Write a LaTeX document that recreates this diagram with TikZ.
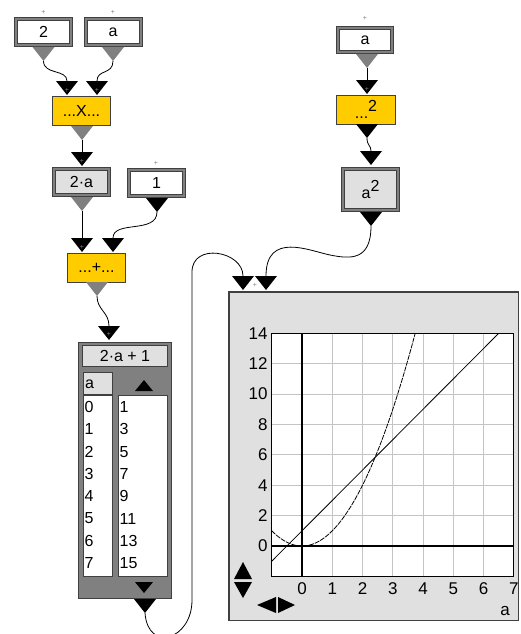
\documentclass[tikz,border=0pt]{standalone}
\usepackage{fontspec}
\setmainfont{Liberation Sans}
\definecolor{gold}{HTML}{FFCC00}
\definecolor{lgray}{HTML}{E0E0E0}
\definecolor{mgray}{HTML}{808080}
\definecolor{dgray}{HTML}{404040}
\definecolor{gridc}{HTML}{C4C4C4}
\newcommand\mytri[4]{%
  \fill[#3] ({#1-11},#2) -- ({#1+11},#2) -- (#1,{#2+14}) -- cycle;
  \coordinate (#4t) at (#1,#2);
  \coordinate (#4b) at (#1,{#2+14});}
\tikzset{
  valbox/.style={draw=dgray, double=mgray, double distance=2pt, line width=1pt,
    minimum width=55pt, minimum height=26pt, inner sep=0pt,
    font=\fontsize{16}{16}\selectfont, fill=white},
  opbox/.style={draw=dgray, line width=1pt, fill=gold, minimum width=58pt,
    minimum height=29pt, inner sep=0pt, font=\fontsize{16}{16}\selectfont},
  wire/.style={line width=0.8pt, black},
  plusmark/.style={font=\fontsize{7}{7}\selectfont, text=gray, inner sep=0pt},
  num/.style={font=\fontsize{16}{16}\selectfont, inner sep=0pt, anchor=west},
  tick/.style={font=\fontsize{17}{17}\selectfont, inner sep=0pt},
  cell/.style={draw=dgray, line width=1pt, fill=white, inner sep=0pt},
}
\begin{document}
\begin{tikzpicture}[x=1pt,y=-1pt]
\useasboundingbox (0,0) rectangle (520,634);

\coordinate (ubend) at (192,600);
\coordinate (utop) at (192,272);
\coordinate (gm) at (330,255);

% ---------- boxes ----------
\node[valbox] (n2) at (43.5,32) {2};
\node[valbox] (na) at (113,32) {a};
\node[opbox] (nx) at (81.5,111) {...X...};
\node[valbox, fill=lgray] (n2a) at (81.5,182) {2·a};
\node[valbox] (n1) at (156.5,183) {1};
\node[opbox] (nplus) at (96.5,267.5) {...+...};
\node[valbox, minimum width=54pt, minimum height=24pt] (nra) at (365,40) {a};
\node[opbox, minimum width=59pt] (nsq) at (366,109.5) {...\raisebox{7pt}{2}};
\node[valbox, fill=lgray, minimum height=41pt] (na2) at (370.5,189.5) {a\raisebox{7pt}{2}};

% ---------- table ----------
\node[draw=dgray, line width=1.5pt, fill=mgray, minimum width=93pt,
  minimum height=256pt, inner sep=0pt] (tab) at (125,470.5) {};
\node[draw=dgray, fill=lgray, line width=1pt, minimum width=85pt,
  minimum height=21pt, inner sep=0pt, font=\fontsize{16}{16}\selectfont] (th) at (125,356) {2·a + 1};
\node[cell, fill=lgray, minimum width=29pt, minimum height=22pt] (tah) at (98,383.5) {};
\node[num] (tal) at (85,384) {a};
\node[cell, minimum width=29pt, minimum height=181pt] (tcl) at (98,486) {};
\node[cell, minimum width=49pt, minimum height=181pt] (tcr) at (143,486) {};
\fill[black] (135,391) -- (153,391) -- (144,380) -- cycle;
\fill[black] (135,582) -- (153,582) -- (144,593) -- cycle;
\foreach \i in {0,...,7}{
  \pgfmathtruncatemacro\v{2*\i+1}
  \node[num] (l\i) at (84.5,{407+22.3*\i}) {\i};
  \node[num] (r\i) at (119.5,{407+22.3*\i}) {\v};
}

% ---------- graph panel ----------
\node[draw=dgray, line width=1.5pt, fill=lgray, minimum width=289.5pt,
  minimum height=328.5pt, inner sep=0pt] (panel) at (373.5,456) {};
\begin{scope}[shift={(302pt,-546pt)}, x=30.25pt, y=15.1875pt]
  \fill[white] (-1,-2) rectangle (7,14);
  \draw[gridc, line width=1pt] (-1,-2) grid[xstep=1,ystep=2] (7,14);
  \draw[black, line width=2pt] (0,-2) -- (0,14);
  \draw[black, line width=2pt] (-1,0) -- (7,0);
  \draw[black, line width=0.8pt] (-1,-1) -- (6.5,14);
  \draw[black, line width=0.8pt, dash pattern=on 5pt off 1pt, domain=-1:3.7417, samples=80]
    plot (\x,{\x*\x});
  \draw[black, line width=1pt] (-1,-2) rectangle (7,14);
  \foreach \k in {0,2,...,14}{
    \node[tick, anchor=east, xshift=-4pt] (yl\k) at (-1,\k) {\k};
  }
  \foreach \k in {0,...,7}{
    \node[tick, anchor=north, yshift=-6pt] (xl\k) at (\k,-2) {\k};
  }
\end{scope}
\node[tick] (alab) at (505,611) {a};
\fill[black] (234,579) -- (252,579) -- (243,562) -- cycle;
\fill[black] (234,582) -- (252,582) -- (243,598) -- cycle;
\fill[black] (276,597) -- (276,613) -- (257,605) -- cycle;
\fill[black] (278,597) -- (278,613) -- (295,605) -- cycle;

% ---------- triangles ----------
\mytri{43.5}{47}{mgray}{o2}
\mytri{113}{47}{mgray}{oa}
\mytri{67}{81}{black}{ixa}
\mytri{97}{81}{black}{ixb}
\mytri{82}{126}{mgray}{ox}
\mytri{82}{152}{black}{ita}
\mytri{82}{197}{mgray}{otwo}
\mytri{157}{198}{black}{oone}
\mytri{82}{238}{black}{ipa}
\mytri{113}{238}{black}{ipb}
\mytri{97}{282}{mgray}{op}
\mytri{109}{326}{black}{it}
\mytri{145}{599}{black}{ot}
\mytri{367}{54}{mgray}{ora}
\mytri{367}{80}{black}{isq}
\mytri{367}{124}{black}{osq}
\mytri{371}{151}{black}{iaa}
\mytri{371}{212}{black}{oaa}
\mytri{243}{276}{black}{iga}
\mytri{266}{276}{black}{igb}

% ---------- wires ----------
\draw[wire] (o2b) .. controls +(0,14) and +(0,-12) .. (ixat);
\draw[wire] (oab) .. controls +(0,14) and +(0,-12) .. (ixbt);
\draw[wire] (oxb) -- (itat);
\draw[wire] (otwob) -- (ipat);
\draw[wire] (ooneb) .. controls +(0,22) and +(0,-18) .. (ipbt);
\draw[wire] (opb) .. controls +(0,14) and +(0,-14) .. (itt);
\draw[wire] (otb) .. controls +(3,40) and +(0,40) .. (ubend) -- (utop)
  .. controls +(0,-30) and +(0,-25) .. (igat);
\draw[wire] (oaab) .. controls +(0,35) and +(20,4) .. (gm)
  .. controls +(-20,-4) and +(0,-45) .. (igbt);
\draw[wire] (orab) -- (isqt);
\draw[wire] (osqb) .. controls +(0,8) and +(0,-6) .. (iaat);

% ---------- small plus marks ----------
\node[plusmark] (p1) at (43.5,12) {+};
\node[plusmark] (p2) at (113,12) {+};
\node[plusmark] (p3) at (156,163) {+};
\node[plusmark] (p4) at (365,18) {+};
\node[plusmark] (p5) at (255,285) {+};
\node[plusmark] (p6) at (67,90) {+};
\node[plusmark] (p7) at (97,90) {+};
\node[plusmark] (p8) at (82,161) {+};
\node[plusmark] (p9) at (82,247) {+};
\node[plusmark] (p10) at (109,334) {+};
\node[plusmark] (p11) at (367,89) {+};
\end{tikzpicture}
\end{document}
